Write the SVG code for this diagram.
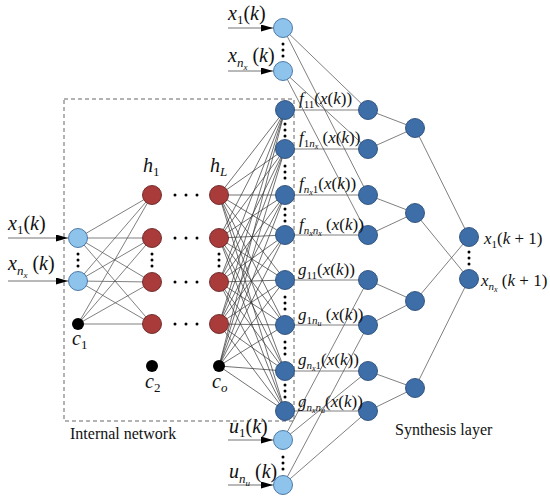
<svg xmlns="http://www.w3.org/2000/svg" width="550" height="503" viewBox="0 0 550 503">
<style>
.lb{fill:#8EC4EC;stroke:#3f6d9e;stroke-width:0.9}
.db{fill:#3E6EA8;stroke:#2a4d78;stroke-width:0.9}
.rd{fill:#A93B3B;stroke:#6a2424;stroke-width:0.9}
.bk{fill:#000}
.c{stroke:#555;stroke-width:0.75;fill:none}
.d{fill:#000}
text{font-family:"Liberation Serif","Times New Roman",serif;fill:#111}
.i{font-style:italic}
.t{font-size:20px}
.f{font-size:17px}
.cap{font-size:16px}
</style>
<defs>
<marker id="ah" markerUnits="userSpaceOnUse" markerWidth="12" markerHeight="7" refX="12" refY="3.5" orient="auto"><path d="M0,0 L12,3.5 L0,7 z" fill="#000"/></marker>
</defs>
<rect x="64" y="99" width="230" height="322" fill="none" stroke="#555" stroke-width="0.9" stroke-dasharray="4,3"/>
<g id="connectors" class="c">
<g stroke="#444" marker-end="url(#ah)">
<line x1="8" y1="238" x2="68" y2="238"/><line x1="8" y1="281" x2="68" y2="281"/>
<line x1="228" y1="28" x2="273" y2="28"/><line x1="228" y1="71" x2="273" y2="71"/>
<line x1="228" y1="440" x2="273" y2="440"/><line x1="228" y1="485" x2="273" y2="485"/>
</g>
<path d="M78,238 L152,195 M78,238 L152,238 M78,238 L152,282 M78,238 L152,324 M78,281 L152,195 M78,281 L152,238 M78,281 L152,282 M78,281 L152,324 M78,324 L152,195 M78,324 L152,238 M78,324 L152,282 M78,324 L152,324"/>
<path stroke="#333" stroke-width="0.7" d="M219,195 L285,110 M219,195 L285,149 M219,195 L285,195 M219,195 L285,235 M219,195 L285,280 M219,195 L285,325 M219,195 L285,371 M219,195 L285,411 M219,238 L285,110 M219,238 L285,149 M219,238 L285,195 M219,238 L285,235 M219,238 L285,280 M219,238 L285,325 M219,238 L285,371 M219,238 L285,411 M219,282 L285,110 M219,282 L285,149 M219,282 L285,195 M219,282 L285,235 M219,282 L285,280 M219,282 L285,325 M219,282 L285,371 M219,282 L285,411 M219,324 L285,110 M219,324 L285,149 M219,324 L285,195 M219,324 L285,235 M219,324 L285,280 M219,324 L285,325 M219,324 L285,371 M219,324 L285,411 M219,366 L285,110 M219,366 L285,149 M219,366 L285,195 M219,366 L285,235 M219,366 L285,280 M219,366 L285,325 M219,366 L285,371 M219,366 L285,411"/>
<path d="M283,28 L368,110 M283,28 L368,195 M283,71 L368,149 M283,71 L368,235 M283,440 L368,280 M283,440 L368,371 M283,485 L368,325 M283,485 L368,411"/>
<path d="M285,110 H368 M285,149 H368 M285,195 H368 M285,235 H368 M285,280 H368 M285,325 H368 M285,371 H368 M285,411 H368"/>
<path d="M368,110 L415,128 M368,149 L415,128 M368,195 L415,213 M368,235 L415,213 M368,280 L415,301 M368,325 L415,301 M368,371 L415,388 M368,411 L415,388"/>
<path d="M415,128 L469,237 M415,213 L469,279 M415,301 L469,237 M415,388 L469,279"/>
</g>
<g id="dots" class="d">
<circle cx="78" cy="254" r="1.5"/><circle cx="78" cy="260" r="1.5"/><circle cx="78" cy="266" r="1.5"/>
<circle cx="152" cy="254" r="1.5"/><circle cx="152" cy="260" r="1.5"/><circle cx="152" cy="266" r="1.5"/>
<circle cx="219" cy="254" r="1.5"/><circle cx="219" cy="260" r="1.5"/><circle cx="219" cy="266" r="1.5"/>
<circle cx="175" cy="195" r="1.5"/><circle cx="186" cy="195" r="1.5"/><circle cx="197" cy="195" r="1.5"/>
<circle cx="175" cy="238" r="1.5"/><circle cx="186" cy="238" r="1.5"/><circle cx="197" cy="238" r="1.5"/>
<circle cx="175" cy="282" r="1.5"/><circle cx="186" cy="282" r="1.5"/><circle cx="197" cy="282" r="1.5"/>
<circle cx="175" cy="324" r="1.5"/><circle cx="186" cy="324" r="1.5"/><circle cx="197" cy="324" r="1.5"/>
<circle cx="283" cy="44" r="1.5"/><circle cx="283" cy="50" r="1.5"/><circle cx="283" cy="56" r="1.5"/>
<circle cx="283" cy="457" r="1.5"/><circle cx="283" cy="463" r="1.5"/><circle cx="283" cy="469" r="1.5"/>
<circle cx="469" cy="252" r="1.5"/><circle cx="469" cy="258" r="1.5"/><circle cx="469" cy="264" r="1.5"/>
<circle cx="285" cy="124" r="1.5"/><circle cx="285" cy="130" r="1.5"/><circle cx="285" cy="136" r="1.5"/>
<circle cx="285" cy="166" r="1.5"/><circle cx="285" cy="172" r="1.5"/><circle cx="285" cy="178" r="1.5"/>
<circle cx="285" cy="209" r="1.5"/><circle cx="285" cy="215" r="1.5"/><circle cx="285" cy="221" r="1.5"/>
<circle cx="285" cy="297" r="1.5"/><circle cx="285" cy="303" r="1.5"/><circle cx="285" cy="309" r="1.5"/>
<circle cx="285" cy="342" r="1.5"/><circle cx="285" cy="348" r="1.5"/><circle cx="285" cy="354" r="1.5"/>
<circle cx="285" cy="385" r="1.5"/><circle cx="285" cy="391" r="1.5"/><circle cx="285" cy="397" r="1.5"/>
</g>
<g id="in-left">
<circle class="lb" cx="78" cy="238" r="9.5"/><circle class="lb" cx="78" cy="281" r="9.5"/><circle class="bk" cx="78" cy="324" r="6"/>
</g>
<g id="hidden-1">
<circle class="rd" cx="152" cy="195" r="9.5"/><circle class="rd" cx="152" cy="238" r="9.5"/><circle class="rd" cx="152" cy="282" r="9.5"/><circle class="rd" cx="152" cy="324" r="9.5"/><circle class="bk" cx="152" cy="366" r="6"/>
</g>
<g id="hidden-L">
<circle class="rd" cx="219" cy="195" r="9.5"/><circle class="rd" cx="219" cy="238" r="9.5"/><circle class="rd" cx="219" cy="282" r="9.5"/><circle class="rd" cx="219" cy="324" r="9.5"/><circle class="bk" cx="219" cy="366" r="6"/>
</g>
<g id="in-top">
<circle class="lb" cx="283" cy="28" r="9.5"/><circle class="lb" cx="283" cy="71" r="9.5"/>
</g>
<g id="in-u">
<circle class="lb" cx="283" cy="440" r="9.5"/><circle class="lb" cx="283" cy="485" r="9.5"/>
</g>
<g id="fg-layer">
<circle class="db" cx="285" cy="110" r="9.5"/><circle class="db" cx="285" cy="149" r="9.5"/><circle class="db" cx="285" cy="195" r="9.5"/><circle class="db" cx="285" cy="235" r="9.5"/><circle class="db" cx="285" cy="280" r="9.5"/><circle class="db" cx="285" cy="325" r="9.5"/><circle class="db" cx="285" cy="371" r="9.5"/><circle class="db" cx="285" cy="411" r="9.5"/>
</g>
<g id="mult-layer">
<circle class="db" cx="368" cy="110" r="9.5"/><circle class="db" cx="368" cy="149" r="9.5"/><circle class="db" cx="368" cy="195" r="9.5"/><circle class="db" cx="368" cy="235" r="9.5"/><circle class="db" cx="368" cy="280" r="9.5"/><circle class="db" cx="368" cy="325" r="9.5"/><circle class="db" cx="368" cy="371" r="9.5"/><circle class="db" cx="368" cy="411" r="9.5"/>
</g>
<g id="sum-layer">
<circle class="db" cx="415" cy="128" r="9.5"/><circle class="db" cx="415" cy="213" r="9.5"/><circle class="db" cx="415" cy="301" r="9.5"/><circle class="db" cx="415" cy="388" r="9.5"/>
</g>
<g id="out-layer">
<circle class="db" cx="469" cy="237" r="9.5"/><circle class="db" cx="469" cy="279" r="9.5"/>
</g>
<g id="labels">
<text class="t" x="8" y="230"><tspan class="i">x</tspan><tspan font-size="13" dy="4">1</tspan><tspan dy="-4">(</tspan><tspan class="i">k</tspan>)</text>
<text class="t" x="8" y="270"><tspan class="i">x</tspan><tspan class="i" font-size="13" dy="5">n</tspan><tspan class="i" font-size="9" dy="3">x</tspan><tspan dy="-8"> (</tspan><tspan class="i">k</tspan>)</text>
<text class="t" x="228" y="20"><tspan class="i">x</tspan><tspan font-size="13" dy="4">1</tspan><tspan dy="-4">(</tspan><tspan class="i">k</tspan>)</text>
<text class="t" x="228" y="62"><tspan class="i">x</tspan><tspan class="i" font-size="13" dy="5">n</tspan><tspan class="i" font-size="9" dy="3">x</tspan><tspan dy="-8"> (</tspan><tspan class="i">k</tspan>)</text>
<text class="t" x="229" y="433"><tspan class="i">u</tspan><tspan font-size="13" dy="4">1</tspan><tspan dy="-4">(</tspan><tspan class="i">k</tspan>)</text>
<text class="t" x="229" y="478"><tspan class="i">u</tspan><tspan class="i" font-size="13" dy="5">n</tspan><tspan class="i" font-size="9" dy="3">u</tspan><tspan dy="-8"> (</tspan><tspan class="i">k</tspan>)</text>
<text class="t" x="143" y="172"><tspan class="i">h</tspan><tspan font-size="13" dy="4">1</tspan></text>
<text class="t" x="210" y="172"><tspan class="i">h</tspan><tspan class="i" font-size="13" dy="4">L</tspan></text>
<text class="t" x="72" y="345"><tspan class="i">c</tspan><tspan font-size="13" dy="4">1</tspan></text>
<text class="t" x="145" y="388"><tspan class="i">c</tspan><tspan font-size="13" dy="4">2</tspan></text>
<text class="t" x="212" y="388"><tspan class="i">c</tspan><tspan class="i" font-size="13" dy="4">o</tspan></text>
<text class="f" x="299" y="104"><tspan class="i">f</tspan><tspan font-size="11" dy="4">11</tspan><tspan dy="-4">(</tspan><tspan class="i">x</tspan>(<tspan class="i">k</tspan>))</text>
<text class="f" x="299" y="143"><tspan class="i">f</tspan><tspan font-size="11" dy="4">1</tspan><tspan class="i" font-size="11">n</tspan><tspan class="i" font-size="8" dy="2">x</tspan><tspan dy="-6"> (</tspan><tspan class="i">x</tspan>(<tspan class="i">k</tspan>))</text>
<text class="f" x="299" y="189"><tspan class="i">f</tspan><tspan class="i" font-size="11" dy="4">n</tspan><tspan class="i" font-size="8" dy="2">x</tspan><tspan font-size="11" dy="-2">1</tspan><tspan dy="-4">(</tspan><tspan class="i">x</tspan>(<tspan class="i">k</tspan>))</text>
<text class="f" x="299" y="230"><tspan class="i">f</tspan><tspan class="i" font-size="11" dy="4">n</tspan><tspan class="i" font-size="8" dy="2">x</tspan><tspan class="i" font-size="11" dy="-2">n</tspan><tspan class="i" font-size="8" dy="2">x</tspan><tspan dy="-6"> (</tspan><tspan class="i">x</tspan>(<tspan class="i">k</tspan>))</text>
<text class="f" x="298" y="275"><tspan class="i">g</tspan><tspan font-size="11" dy="4">11</tspan><tspan dy="-4">(</tspan><tspan class="i">x</tspan>(<tspan class="i">k</tspan>))</text>
<text class="f" x="298" y="320"><tspan class="i">g</tspan><tspan font-size="11" dy="4">1</tspan><tspan class="i" font-size="11">n</tspan><tspan class="i" font-size="8" dy="2">u</tspan><tspan dy="-6"> (</tspan><tspan class="i">x</tspan>(<tspan class="i">k</tspan>))</text>
<text class="f" x="298" y="365"><tspan class="i">g</tspan><tspan class="i" font-size="11" dy="4">n</tspan><tspan class="i" font-size="8" dy="2">x</tspan><tspan font-size="11" dy="-2">1</tspan><tspan dy="-4">(</tspan><tspan class="i">x</tspan>(<tspan class="i">k</tspan>))</text>
<text class="f" x="298" y="407"><tspan class="i">g</tspan><tspan class="i" font-size="11" dy="4">n</tspan><tspan class="i" font-size="8" dy="2">x</tspan><tspan class="i" font-size="11" dy="-2">n</tspan><tspan class="i" font-size="8" dy="2">u</tspan><tspan dy="-6">(</tspan><tspan class="i">x</tspan>(<tspan class="i">k</tspan>))</text>
<text class="f" x="484" y="244"><tspan class="i">x</tspan><tspan font-size="11" dy="4">1</tspan><tspan dy="-4">(</tspan><tspan class="i">k</tspan> + 1)</text>
<text class="f" x="481" y="286"><tspan class="i">x</tspan><tspan class="i" font-size="11" dy="4">n</tspan><tspan class="i" font-size="8" dy="2">x</tspan><tspan dy="-6"> (</tspan><tspan class="i">k</tspan> + 1)</text>
<text class="cap" x="70" y="439">Internal network</text>
<text class="cap" x="395" y="435">Synthesis layer</text>
</g>
</svg>
